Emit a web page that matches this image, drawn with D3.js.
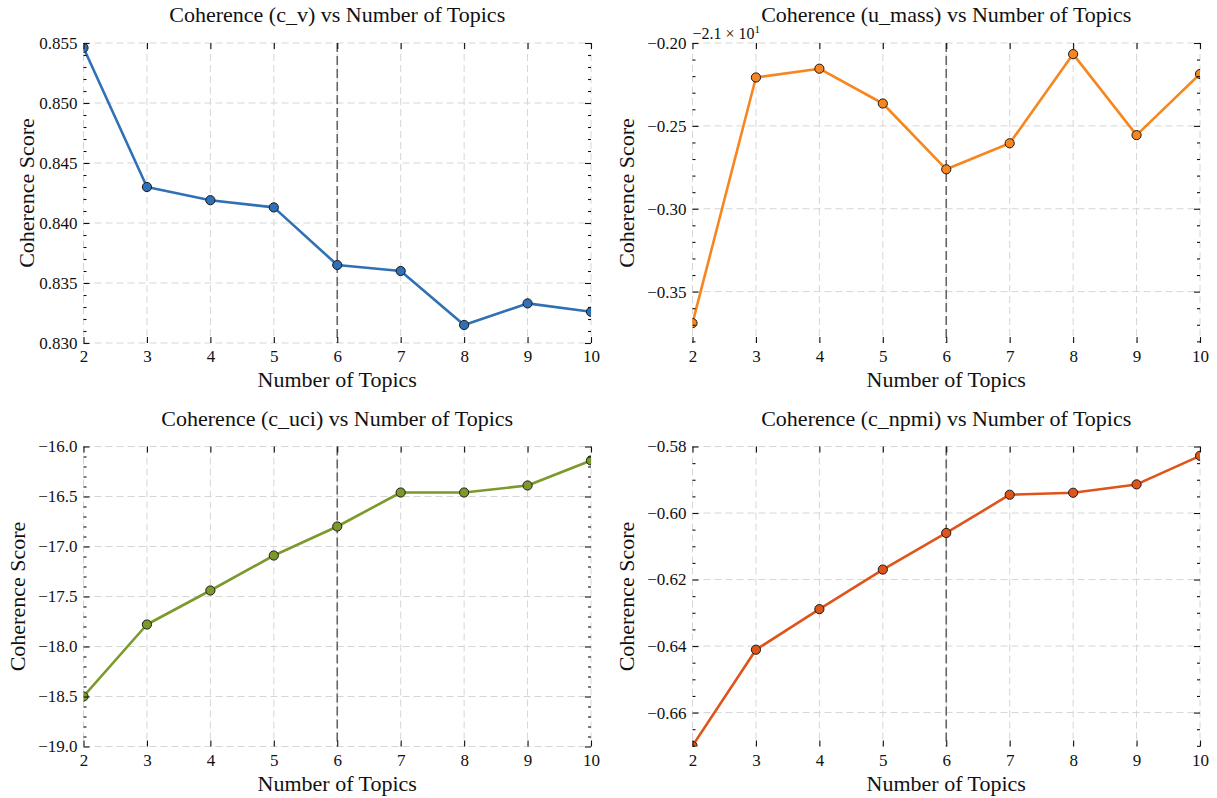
<!DOCTYPE html>
<html>
<head>
<meta charset="utf-8">
<script src="https://cdn.jsdelivr.net/npm/d3@7"></script>
<style>
  body { margin: 0; background: #fff; }
  svg text { font-family: "Liberation Serif", "DejaVu Serif", serif; fill: #111; }
</style>
</head>
<body>
<div id="chart"></div>
<script>
// data
var topics = [2, 3, 4, 5, 6, 7, 8, 9, 10];
var cvScores = [0.8546, 0.8430, 0.8419, 0.8413, 0.8365, 0.8360, 0.8315, 0.8333, 0.8326];
var umassScores = [-21.369, -21.2208, -21.2155, -21.2365, -21.2762, -21.2605, -21.2067, -21.2556, -21.2187];
var cuciScores = [-18.50, -17.78, -17.44, -17.09, -16.80, -16.46, -16.46, -16.39, -16.14];
var cnpmiScores = [-0.6700, -0.6411, -0.6289, -0.6170, -0.6060, -0.5945, -0.5939, -0.5914, -0.5828];

var xTicks = [2, 3, 4, 5, 6, 7, 8, 9, 10];
var cvTicks = [0.830, 0.835, 0.840, 0.845, 0.850, 0.855];
var umassTicks = [-21.35, -21.30, -21.25, -21.20];
var cuciTicks = [-19.0, -18.5, -18.0, -17.5, -17.0, -16.5, -16.0];
var cnpmiTicks = [-0.66, -0.64, -0.62, -0.60, -0.58];
var bestTopics = 6;

var W = 1217, H = 798;
var pw = 507.5, ph = 300;
var serif = '"Liberation Serif", "DejaVu Serif", serif';

var svg = d3.select('#chart').append('svg')
            .attr('width', W)
            .attr('height', H);

var panels = [
  {id: 'cv', title: 'Coherence (c_v) vs Number of Topics', values: cvScores, color: '#3070b4',
   domain: [0.830, 0.855], ticks: cvTicks, fmt: d3.format('.3f'), minor: 0.001,
   left: 83.5, top: 43, ylabelDx: 50},
  {id: 'umass', title: 'Coherence (u_mass) vs Number of Topics', values: umassScores, color: '#f7861f',
   domain: [-21.381, -21.20], ticks: umassTicks, fmt: function(d) { return d3.format('.2f')(d + 21); }, minor: 0.01,
   left: 692.5, top: 43, ylabelDx: 59, offset: true},
  {id: 'cuci', title: 'Coherence (c_uci) vs Number of Topics', values: cuciScores, color: '#7c992b',
   domain: [-19.0, -16.0], ticks: cuciTicks, fmt: d3.format('.1f'), minor: 0.1,
   left: 83.5, top: 446.5, ylabelDx: 59},
  {id: 'cnpmi', title: 'Coherence (c_npmi) vs Number of Topics', values: cnpmiScores, color: '#df5419',
   domain: [-0.6702, -0.58], ticks: cnpmiTicks, fmt: d3.format('.2f'), minor: 0.005,
   left: 692.5, top: 446.5, ylabelDx: 59}
];

panels.forEach(function(p) {
  var g = svg.append('g').attr('transform', 'translate(' + p.left + ',' + p.top + ')');
  var x = d3.scaleLinear().domain([2, 10]).range([0, pw]);
  var y = d3.scaleLinear().domain(p.domain).range([ph, 0]);

  g.append('clipPath').attr('id', 'clip_' + p.id)
   .append('rect').attr('width', pw).attr('height', ph);

  // grid
  g.selectAll('.vgrid').data(xTicks).enter().append('line')
   .attr('x1', function(d) { return x(d); }).attr('x2', function(d) { return x(d); })
   .attr('y1', 0).attr('y2', ph)
   .attr('stroke', '#d6d6d6').attr('stroke-width', 1).attr('stroke-dasharray', '7,4');
  g.selectAll('.hgrid').data(p.ticks).enter().append('line')
   .attr('x1', 0).attr('x2', pw)
   .attr('y1', function(d) { return y(d); }).attr('y2', function(d) { return y(d); })
   .attr('stroke', '#d6d6d6').attr('stroke-width', 1).attr('stroke-dasharray', '7,4');

  // best-k marker line
  g.append('line')
   .attr('x1', x(bestTopics)).attr('x2', x(bestTopics))
   .attr('y1', 0).attr('y2', ph)
   .attr('stroke', '#666').attr('stroke-width', 1.6).attr('stroke-dasharray', '9,4');

  var data = topics.map(function(t, i) { return {t: t, v: p.values[i]}; });
  var line = d3.line().x(function(d) { return x(d.t); }).y(function(d) { return y(d.v); });
  var plot = g.append('g').attr('clip-path', 'url(#clip_' + p.id + ')');
  plot.append('path').datum(data)
      .attr('fill', 'none').attr('stroke', p.color)
      .attr('stroke-width', 2.6).attr('stroke-linejoin', 'round')
      .attr('d', line);
  plot.selectAll('circle').data(data).enter().append('circle')
      .attr('cx', function(d) { return x(d.t); })
      .attr('cy', function(d) { return y(d.v); })
      .attr('r', 4.6)
      .attr('fill', p.color).attr('stroke', '#1a1a1a').attr('stroke-width', 1);

  // axes, ticks inward on all sides, no spines
  var xAxisB = d3.axisBottom(x).tickValues(xTicks).tickSize(-6).tickPadding(7).tickFormat(d3.format('d'));
  var xAxisT = d3.axisTop(x).tickValues(xTicks).tickSize(-6).tickFormat('');
  var yAxisL = d3.axisLeft(y).tickValues(p.ticks).tickSize(-6).tickPadding(6).tickFormat(p.fmt);
  var yAxisR = d3.axisRight(y).tickValues(p.ticks).tickSize(-6).tickFormat('');

  var minorVals = d3.range(Math.ceil(p.domain[0] / p.minor - 1e-6), Math.floor(p.domain[1] / p.minor + 1e-6) + 1)
    .map(function(k) { return k * p.minor; })
    .filter(function(v) { return !p.ticks.some(function(t) { return Math.abs(t - v) < p.minor / 10; }); });
  var yMinorL = d3.axisLeft(y).tickValues(minorVals).tickSize(-3).tickFormat('');
  var yMinorR = d3.axisRight(y).tickValues(minorVals).tickSize(-3).tickFormat('');

  var axes = [
    g.append('g').attr('transform', 'translate(0,' + ph + ')').call(xAxisB),
    g.append('g').call(xAxisT),
    g.append('g').call(yAxisL),
    g.append('g').attr('transform', 'translate(' + pw + ',0)').call(yAxisR),
    g.append('g').call(yMinorL),
    g.append('g').attr('transform', 'translate(' + pw + ',0)').call(yMinorR)
  ];
  axes.forEach(function(a) {
    a.attr('font-family', serif).attr('font-size', 17);
    a.select('.domain').remove();
    a.selectAll('.tick line').attr('stroke', '#111').attr('stroke-width', 1.1);
    a.selectAll('.tick text').attr('fill', '#111');
  });

  // titles and labels
  g.append('text').attr('x', pw / 2).attr('y', -21)
   .attr('text-anchor', 'middle').attr('font-size', 22).text(p.title);
  g.append('text').attr('x', pw / 2).attr('y', ph + 44)
   .attr('text-anchor', 'middle').attr('font-size', 22).text('Number of Topics');
  g.append('text')
   .attr('transform', 'translate(' + (-p.ylabelDx) + ',' + (ph / 2) + ') rotate(-90)')
   .attr('text-anchor', 'middle').attr('font-size', 22).text('Coherence Score');

  if (p.offset) {
    var off = g.append('text').attr('x', 0).attr('y', -4).attr('font-size', 16);
    off.append('tspan').text('\u22122.1 \u00d7 10');
    off.append('tspan').attr('dy', -6).attr('font-size', 11).text('1');
  }
});
</script>
</body>
</html>
